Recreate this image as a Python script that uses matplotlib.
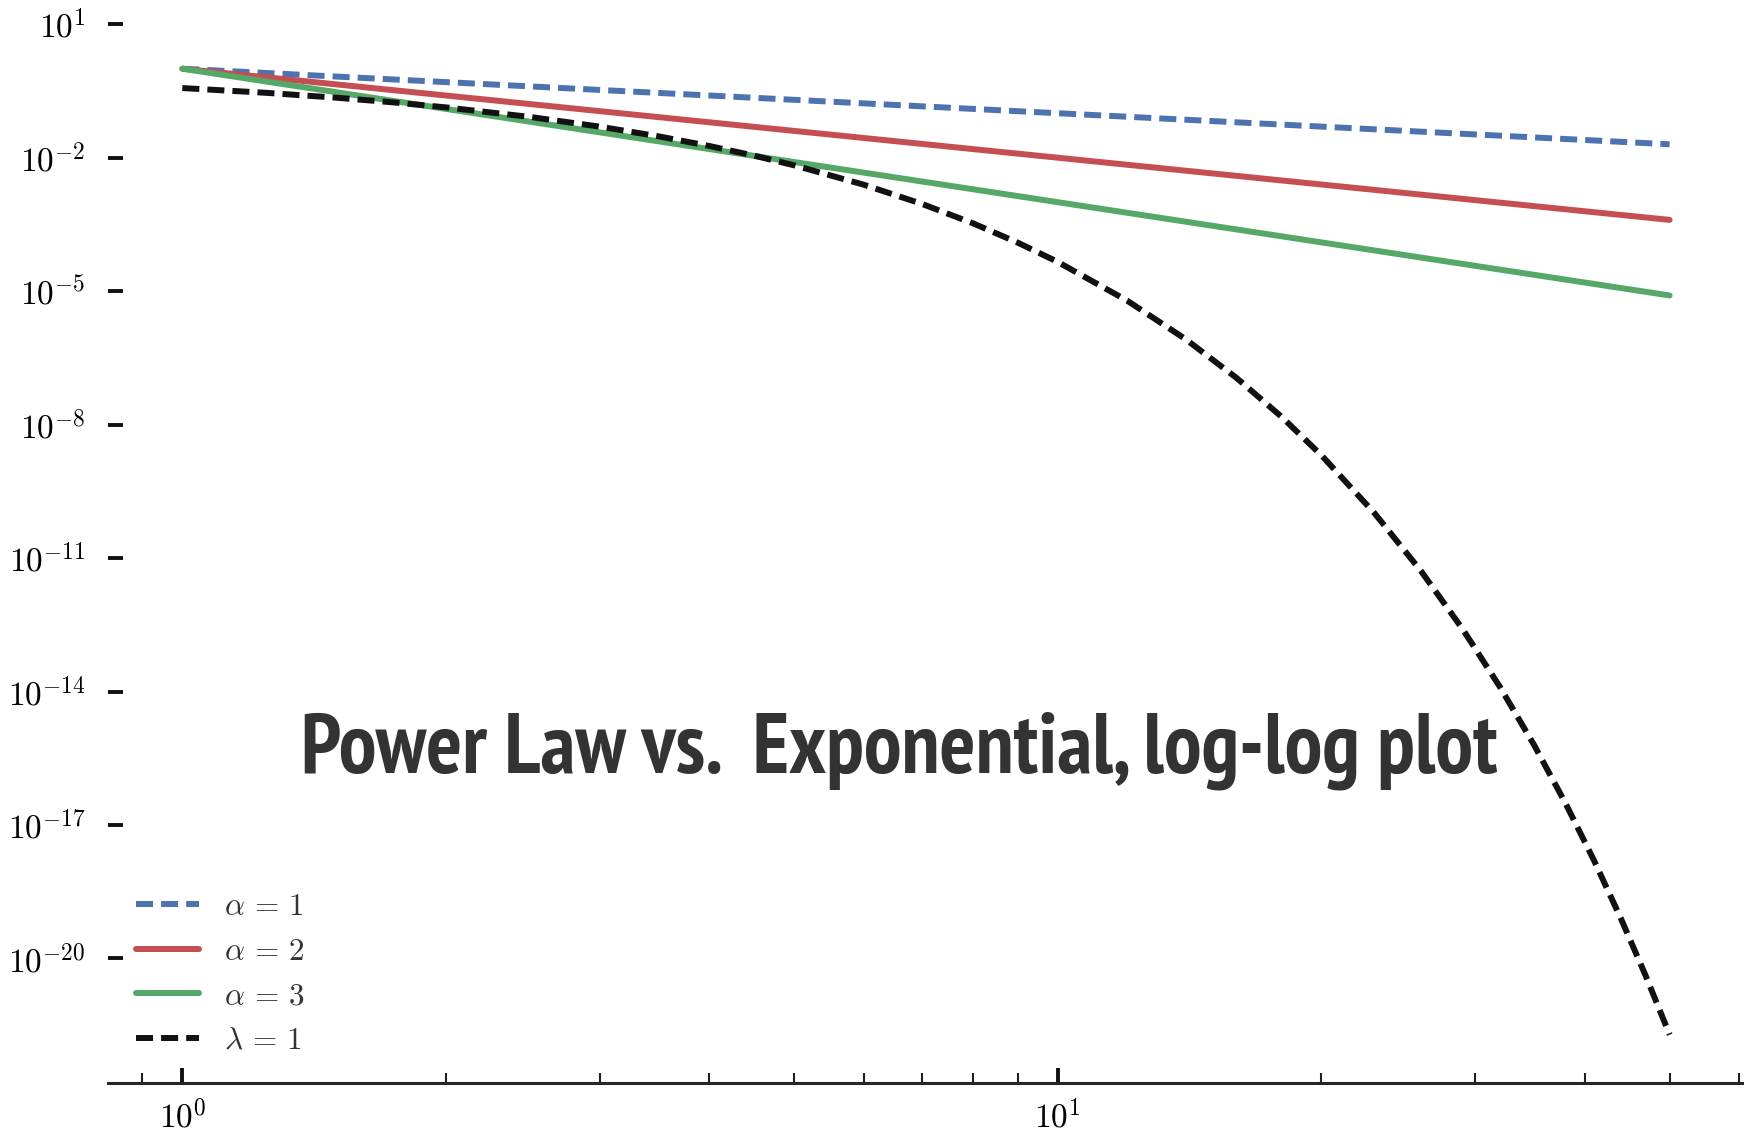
import matplotlib
matplotlib.use("Agg")
import matplotlib.pyplot as plt
from matplotlib import font_manager
from matplotlib.font_manager import FontProperties
from matplotlib.ticker import LogLocator, NullFormatter, NullLocator

# ---- data ----
x_power = [1.0, 50.0]
alpha1 = [1.0, 2.0e-2]
alpha2 = [1.0, 4.0e-4]
alpha3 = [1.0, 8.0e-6]

x_exp = [1.0, 1.25, 1.5, 1.75, 2.0, 2.5, 3.0, 3.5, 4.0, 4.5, 5.0, 6.0, 7.0, 8.0,
         9.0, 10.0, 12.0, 14.0, 16.0, 18.0, 20.0, 23.0, 26.0, 29.0, 32.0, 35.0,
         38.0, 41.0, 44.0, 47.0, 50.0]
lambda1 = [0.3679, 0.2865, 0.2231, 0.1738, 0.1353, 0.08208, 0.04979, 0.03020,
           0.01832, 0.01111, 6.738e-3, 2.479e-3, 9.119e-4, 3.355e-4, 1.234e-4,
           4.540e-5, 6.144e-6, 8.315e-7, 1.125e-7, 1.523e-8, 2.061e-9, 1.026e-10,
           5.109e-12, 2.544e-13, 1.266e-14, 6.305e-16, 3.139e-17, 1.563e-18,
           7.781e-20, 3.874e-21, 1.929e-22]

labels = [r"$\alpha\,=\,1$", r"$\alpha\,=\,2$", r"$\alpha\,=\,3$", r"$\lambda\,=\,1$"]
ytick_exponents = [1, -2, -5, -8, -11, -14, -17, -20]
xtick_exponents = [0, 1]
title = "Power Law vs.  Exponential, log-log plot"

colors = ["#4C72B0", "#C44E52", "#55A868", "#111111"]

plt.rcParams["mathtext.fontset"] = "cm"

fig = plt.figure(figsize=(17.44, 11.35), dpi=100)
ax = fig.add_axes([0.0619, 0.0458, 0.9381, 0.9362])

lw = 4.3
dash = (2.85, 1.35)
ax.loglog(x_power, alpha1, "--", color=colors[0], lw=lw, dashes=dash, label=labels[0])
ax.loglog(x_power, alpha2, "-", color=colors[1], lw=lw, solid_capstyle="round", label=labels[1])
ax.loglog(x_power, alpha3, "-", color=colors[2], lw=lw, solid_capstyle="round", label=labels[2])
ax.loglog(x_exp, lambda1, "--", color=colors[3], lw=lw, dashes=dash, label=labels[3])

for s in ["top", "right", "left"]:
    ax.spines[s].set_visible(False)
ax.spines["bottom"].set_linewidth(2.2)
ax.spines["bottom"].set_color("#262626")

yt = [10.0 ** e for e in ytick_exponents]
ax.set_yticks(yt, [r"$10^{%d}$" % e for e in ytick_exponents])
ax.yaxis.set_minor_locator(NullLocator())

xt = [10.0 ** e for e in xtick_exponents]
ax.set_xticks(xt, [r"$10^{%d}$" % e for e in xtick_exponents])
ax.xaxis.set_minor_locator(LogLocator(subs=[2, 3, 4, 5, 6, 7, 8, 9], numticks=20))
ax.xaxis.set_minor_formatter(NullFormatter())

ax.tick_params(axis="both", which="major", direction="in", length=10.5, width=2.8,
               labelsize=24, color="#111111")
ax.tick_params(axis="y", which="major", pad=16)
ax.tick_params(axis="x", which="major", pad=12)
ax.tick_params(axis="x", which="minor", direction="in", length=7, width=1.5,
               color="#222222")

leg = ax.legend(loc="lower left", frameon=False, fontsize=22.5)
for t in leg.get_texts():
    t.set_color("#333333")

# ---- title: choose the most condensed bold sans font that is installed ----
def _wt(w):
    if isinstance(w, (int, float)):
        return w
    return {"bold": 700, "heavy": 800, "black": 900, "extra bold": 800,
            "demibold": 600, "semibold": 600}.get(str(w).lower(), 400)

fig.canvas.draw()
r = fig.canvas.get_renderer()
best_fp, best_w = None, None
seen = set()
for f in font_manager.fontManager.ttflist:
    nm = f.name
    low = nm.lower()
    if _wt(f.weight) < 700 or f.style != "normal":
        continue
    if any(k in low for k in ["mono", "serif", "math", "stix", "cmr", "cmex", "cmsy", "cmmi", "cmtt", "cmb", "cjk"]):
        continue
    if not any(k in low for k in ["sans", "roboto", "lato", "inter", "open"]):
        continue
    if f.fname in seen:
        continue
    seen.add(f.fname)
    fp = FontProperties(fname=f.fname, size=50)
    try:
        t = fig.text(0, 0, title, fontproperties=fp)
        w = t.get_window_extent(r).width
        t.remove()
    except Exception:
        continue
    if w > 0 and (best_w is None or w < best_w):
        best_fp, best_w = fp, w

if best_fp is None:
    best_fp = FontProperties(family="DejaVu Sans", weight="bold", size=50)
    t = fig.text(0, 0, title, fontproperties=best_fp)
    best_w = t.get_window_extent(r).width
    t.remove()

size = min(61.0, 50.0 * 1198.0 / best_w)
best_fp = best_fp.copy()
best_fp.set_size(size)
fig.text(899 / 1744, 1 - 773 / 1135, title, ha="center", va="baseline",
         color="#333333", fontproperties=best_fp)

fig.savefig("out.png", dpi=100)
